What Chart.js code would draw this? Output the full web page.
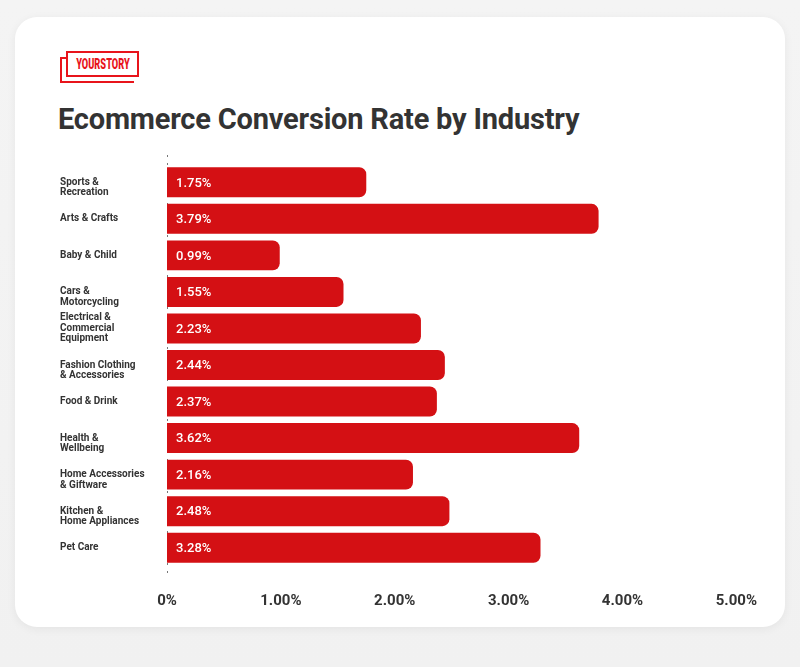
<!DOCTYPE html>
<html>
<head>
<meta charset="utf-8">
<script src="https://cdn.jsdelivr.net/npm/chart.js@4"></script>
<style>
    html, body { margin: 0; padding: 0; }
    body {
        width: 800px; height: 667px; overflow: hidden;
        background: linear-gradient(180deg, #f4f4f4, #f1f1f1);
        font-family: Roboto, sans-serif;
        position: relative;
    }
    .card {
        position: absolute; left: 15px; top: 17px; width: 770px; height: 610px;
        background: #fff; border-radius: 22px;
        box-shadow: 0 2px 10px rgba(0, 0, 0, 0.06);
    }
    .logo { position: absolute; left: 60px; top: 51px; width: 82px; height: 34px; }
    .logo .back {
        position: absolute; left: 0; top: 6px; width: 72px; height: 22px;
        border: 2px solid #e8141b; border-right: none;
    }
    .logo .front {
        position: absolute; left: 6px; top: 0; width: 69px; height: 22px;
        border: 2px solid #e8141b; background: #fff; overflow: hidden;
    }
    .logo .front span {
        display: block; width: 100px; margin-left: -15px; text-align: center;
        color: #e8141b; font-family: Roboto, sans-serif; font-weight: 900;
        font-size: 14px; line-height: 22px; transform: scaleX(0.66);
    }
    h1 {
        position: absolute; left: 58px; top: 102px; margin: 0;
        font-size: 29px; font-weight: 700; color: #333; letter-spacing: -0.2px;
    }
    .chart-box { position: absolute; left: 55px; top: 145px; width: 720px; height: 470px; }
</style>
</head>
<body>
<div class="card"></div>
<div class="logo"><div class="back"></div><div class="front"><span>YOURSTORY</span></div></div>
<h1>Ecommerce Conversion Rate by Industry</h1>
<div class="chart-box"><canvas id="chart" width="720" height="470"></canvas></div>

<script>
// industries (multi-line labels as in the graphic; the leading '' keeps
// the first line level with the bar, as the original does)
const industries = [
    ['', 'Sports &', 'Recreation'],
    'Arts & Crafts',
    'Baby & Child',
    ['', 'Cars &', 'Motorcycling'],
    ['Electrical &', 'Commercial', 'Equipment'],
    ['', 'Fashion Clothing', '& Accessories'],
    'Food & Drink',
    ['', 'Health &', 'Wellbeing'],
    ['', 'Home Accessories', '& Giftware'],
    ['', 'Kitchen &', 'Home Appliances'],
    'Pet Care'
];
// conversion rate, %
const conversionRates = [1.75, 3.79, 0.99, 1.55, 2.23, 2.44, 2.37, 3.62, 2.16, 2.48, 3.28];
const xTicks = [0, 1, 2, 3, 4, 5];

// values printed inside bars
const barLabels = {
    id: 'barLabels',
    afterDatasetsDraw(chart) {
        const ctx = chart.ctx;
        const meta = chart.getDatasetMeta(0);
        ctx.save();
        ctx.fillStyle = '#fff';
        ctx.font = '500 13px Roboto';
        ctx.textBaseline = 'middle';
        meta.data.forEach((bar, i) => {
            ctx.fillText(conversionRates[i].toFixed(2) + '%', bar.base + 9, bar.y + 1);
        });
        ctx.restore();
    }
};

// dotted zero line
const zeroLine = {
    id: 'zeroLine',
    beforeDatasetsDraw(chart) {
        const ctx = chart.ctx;
        const x = Math.round(chart.scales.x.getPixelForValue(0)) + 0.5;
        ctx.save();
        ctx.strokeStyle = '#777';
        ctx.lineWidth = 1;
        ctx.setLineDash([2, 6]);
        ctx.beginPath();
        ctx.moveTo(x, chart.chartArea.top - 9);
        ctx.lineTo(x, chart.chartArea.bottom + 12);
        ctx.stroke();
        ctx.restore();
    }
};

new Chart(document.getElementById('chart'), {
    type: 'bar',
    data: {
        labels: industries,
        datasets: [{
            data: conversionRates,
            backgroundColor: '#d41014',
            borderRadius: 7,
            barPercentage: 0.82,
            categoryPercentage: 1
        }]
    },
    options: {
        indexAxis: 'y',
        responsive: false,
        animation: false,
        layout: { padding: { top: 19, right: 32, left: 5 } },
        plugins: { legend: { display: false }, tooltip: { enabled: false } },
        scales: {
            x: {
                min: 0, max: 5,
                afterBuildTicks: (scale) => { scale.ticks = xTicks.map(v => ({ value: v })); },
                afterFit: (scale) => { scale.height = 49; },
                grid: { display: false },
                border: { display: false },
                ticks: {
                    padding: 18,
                    color: '#333',
                    font: { family: 'Roboto', size: 15, weight: 'bold' },
                    callback: (v) => v === 0 ? '0%' : v.toFixed(2) + '%'
                }
            },
            y: {
                afterFit: (scale) => { scale.width = 107; },
                grid: { display: false },
                border: { display: false },
                ticks: {
                    crossAlign: 'far',
                    color: '#333',
                    font: { family: 'Roboto', size: 10, weight: 'bold', lineHeight: 1.05 }
                }
            }
        }
    },
    plugins: [barLabels, zeroLine]
});
</script>
</body>
</html>
